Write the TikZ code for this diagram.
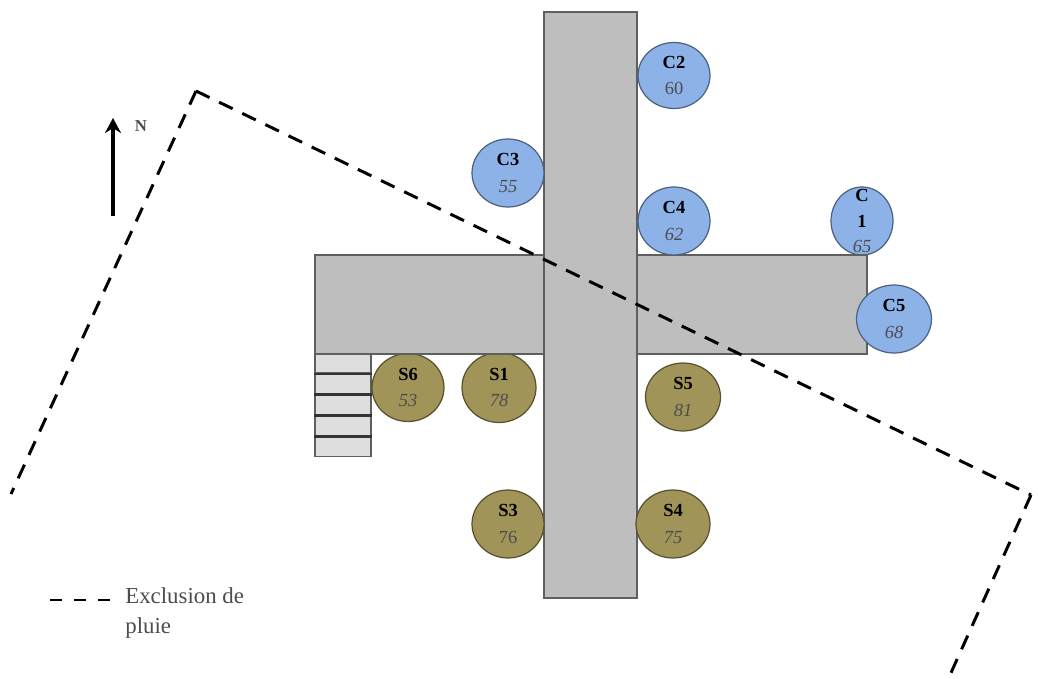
\documentclass[tikz,border=0pt]{standalone}
\usepackage{fontspec}
\setmainfont{Liberation Serif}
\usetikzlibrary{shapes.geometric,arrows.meta}
\definecolor{blueplot}{RGB}{140,178,232}
\definecolor{brownplot}{RGB}{160,148,88}
\definecolor{roofgray}{RGB}{190,190,190}
\definecolor{stairgray}{RGB}{222,222,222}
\definecolor{edgegray}{RGB}{95,95,95}
\newcommand{\plotlabel}[2]{\textbf{#1}\\{\color{black!70}#2}}
\tikzset{
  plot/.style={ellipse, draw=#1!55!black, fill=#1, line width=0.7pt, inner sep=0pt, align=center, minimum width=1.44cm, minimum height=1.36cm, font=\fontsize{10.5}{15}\selectfont},
  roof/.style={draw=edgegray, fill=roofgray, line width=0.8pt, inner sep=0pt},
  stair/.style={draw=edgegray, fill=stairgray, line width=0.6pt, inner sep=0pt, minimum width=1.12cm, minimum height=0.42cm},
  rain/.style={line width=1.7pt, dash pattern=on 0.30cm off 0.214cm},
  tread/.style={line width=1.2pt, black!80}
}
\begin{document}
\begin{tikzpicture}[x=0.02cm, y=-0.02cm]
  \useasboundingbox (0,0) rectangle (1038,679);
  % stairs
  \node[stair] (st1) at (343,363) {};
  \node[stair] (st2) at (343,383.5) {};
  \node[stair] (st3) at (343,404.5) {};
  \node[stair] (st4) at (343,425.5) {};
  \node[stair] (st5) at (343,446) {};
  \draw[tread] (st1.south west) -- (st1.south east);
  \draw[tread] (st2.south west) -- (st2.south east);
  \draw[tread] (st3.south west) -- (st3.south east);
  \draw[tread] (st4.south west) -- (st4.south east);
  % plots under the roof
  \node[plot=brownplot] (S6) at (408,387.5) {\plotlabel{S6}{\textit{53}}};
  \node[plot=brownplot, minimum width=1.48cm, minimum height=1.4cm] (S1) at (499,387.5) {\plotlabel{S1}{\textit{78}}};
  \node[plot=blueplot, minimum width=1.24cm, inner sep=-0.6cm, font=\fontsize{10.5}{14.7}\selectfont] (C1) at (862,221) {\textbf{C}\\\textbf{1}\\{\color{black!70}\textit{65}}};
  % roof
  \node[roof, minimum width=11.04cm, minimum height=1.98cm] (roofEW) at (591,304.5) {};
  \node[roof, minimum width=1.86cm, minimum height=11.72cm] (roofNS) at (590.5,305) {};
  % plots
  \node[plot=blueplot, minimum height=1.32cm] (C2) at (674,75.5) {\plotlabel{C2}{60}};
  \node[plot=blueplot] (C3) at (508,173) {\plotlabel{C3}{\textit{55}}};
  \node[plot=blueplot] (C4) at (674,221) {\plotlabel{C4}{\textit{62}}};
  \node[plot=blueplot, minimum width=1.5cm] (C5) at (894,319) {\plotlabel{C5}{\textit{68}}};
  \node[plot=brownplot, minimum width=1.5cm] (S5) at (683,397) {\plotlabel{S5}{\textit{81}}};
  \node[plot=brownplot] (S3) at (508,524) {\plotlabel{S3}{76}};
  \node[plot=brownplot, minimum width=1.48cm] (S4) at (673,524) {\plotlabel{S4}{\textit{75}}};
  % rain exclusion
  \coordinate (ex1) at (11,494);
  \coordinate (ex2) at (196,91);
  \coordinate (ex3) at (1031,495);
  \coordinate (ex4) at (950,675);
  \draw[rain] (ex2) -- (ex1);
  \draw[rain] (ex2) -- (ex3);
  \draw[rain] (ex3) -- (ex4);
  % north
  \coordinate (n1) at (113,216);
  \coordinate (n2) at (113,118);
  \draw[line width=2.5pt, -{Stealth[length=0.3cm, width=0.32cm]}] (n1) -- (n2);
  \node[font=\fontsize{9.5}{11}\selectfont\bfseries, text=black!70] (north) at (141,126) {N};
  % legend
  \coordinate (lg1) at (50,600);
  \coordinate (lg2) at (110,600);
  \draw[rain, dash pattern=on 0.24cm off 0.24cm] (lg1) -- (lg2);
  \node[anchor=north west, align=left, inner sep=0pt, text=black!70, font=\fontsize{13}{17}\selectfont] (legend) at (125,587) {Exclusion de\\pluie};
\end{tikzpicture}
\end{document}
